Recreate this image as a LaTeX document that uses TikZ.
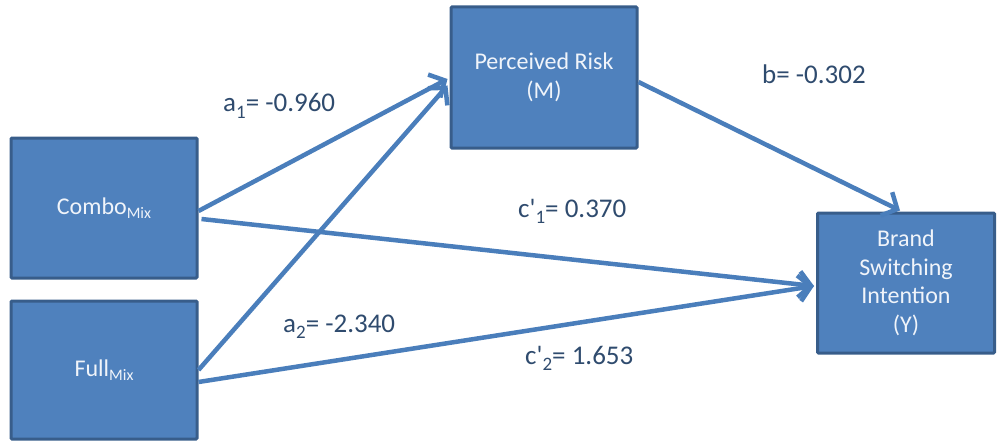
\documentclass[tikz,border=0pt]{standalone}
\usepackage{fontspec}
\setmainfont{Carlito}[Ligatures=TeXOff]
\usetikzlibrary{arrows.meta}
\definecolor{boxfill}{RGB}{79,129,189}
\definecolor{boxdraw}{RGB}{56,93,138}
\definecolor{arrowc}{RGB}{74,126,187}
\definecolor{labelc}{RGB}{47,75,110}
\definecolor{boxtext}{RGB}{240,244,250}
\newcommand\lowsub[3]{\raisebox{-#2}{\fontsize{#1}{#1}\selectfont #3}}
\tikzset{
  varbox/.style={rectangle, fill=boxfill, draw=boxdraw, line width=3pt,
    rounded corners=1pt, inner sep=0pt, align=center, text=boxtext,
    font=\fontsize{24}{28.5}\selectfont},
  path/.style={draw=arrowc, line width=4.5pt,
    -{Straight Barb[length=12pt,width=26pt,line width=4.5pt]}},
  coef/.style={anchor=base west, text=labelc, inner sep=0pt,
    font=\fontsize{27}{32}\selectfont}
}
\begin{document}
\begin{tikzpicture}[x=1pt,y=-1pt]
\useasboundingbox (0,0) rectangle (997,444);
\node[varbox, minimum width=186pt, minimum height=140pt] (combo) at (104,208) {Combo\lowsub{16}{4pt}{Mix}};
\node[varbox, minimum width=186pt, minimum height=138pt] (full) at (104,370) {Full\lowsub{16}{4pt}{Mix}};
\node[varbox, minimum width=186pt, minimum height=141pt] (med) at (544,77.5) {Perceived Risk\\(M)};
\node[varbox, minimum width=177pt, minimum height=140pt] (out) at (906,283) {Brand\\Switching\\Intention\\(Y)};

\draw[path] ([yshift=-3pt]combo.east) -- ([yshift=-1.5pt,xshift=-2pt]med.west);
\draw[path] ([yshift=0pt]full.east) -- ([yshift=-8pt,xshift=-2pt]med.west);
\draw[path] ([yshift=-11pt,xshift=3pt]combo.east) -- ([yshift=-3pt,xshift=-2pt]out.west);
\draw[path] ([yshift=-12pt]full.east) -- ([yshift=-3pt,xshift=-2pt]out.west);
\draw[path] ([yshift=-4.5pt]med.east) -- ([xshift=-6pt,yshift=1pt]out.north);

\node[coef] (la1) at (223,112) {a\lowsub{19}{6pt}{1}= -0.960};
\node[coef] (lb) at (762,84) {b= -0.302};
\node[coef] (lc1) at (518,217) {c'\lowsub{19}{6pt}{1}= 0.370};
\node[coef] (la2) at (283,332) {a\lowsub{19}{6pt}{2}= -2.340};
\node[coef] (lc2) at (525,364) {c'\lowsub{19}{6pt}{2}= 1.653};
\end{tikzpicture}
\end{document}
